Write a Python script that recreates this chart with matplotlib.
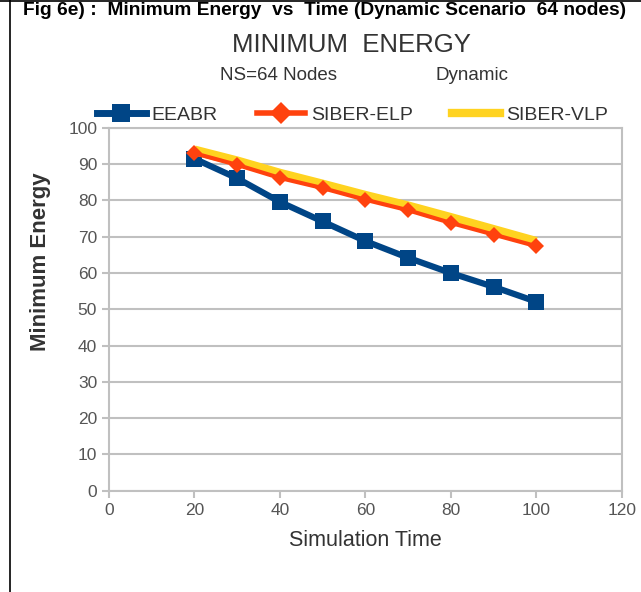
import matplotlib
matplotlib.use("Agg")
import matplotlib.pyplot as plt
from matplotlib.lines import Line2D

plt.rcParams['font.family'] = ['Liberation Sans', 'DejaVu Sans']

# data
sim_time = [20, 30, 40, 50, 60, 70, 80, 90, 100]
eeabr = [91.5, 86.1, 79.6, 74.2, 68.8, 64.2, 60.0, 56.2, 52.1]
siber_elp = [93.0, 89.8, 86.2, 83.4, 80.2, 77.3, 73.8, 70.6, 67.4]
siber_vlp = [93.8, 90.8, 87.4, 84.4, 81.3, 78.4, 75.2, 71.9, 68.6]

x_ticks = [0, 20, 40, 60, 80, 100, 120]
y_ticks = [0, 10, 20, 30, 40, 50, 60, 70, 80, 90, 100]

blue = '#004586'
orange = '#ff420e'
yellow = '#ffd320'
grey = '#c0c0c0'
text_grey = '#333333'

fig = plt.figure(figsize=(6.41, 5.92), dpi=100)
ax = fig.add_axes([0.170, 0.171, 0.800, 0.613])

ax.plot(sim_time, siber_vlp, color=yellow, lw=7, solid_capstyle='butt', zorder=3)
ax.plot(sim_time, siber_elp, color=orange, lw=3, marker='D', ms=8,
        markeredgewidth=0, zorder=4)
ax.plot(sim_time, eeabr, color=blue, lw=4.5, marker='s', ms=12,
        markeredgewidth=0, zorder=2)

ax.set_xlim(0, 120)
ax.set_ylim(0, 100)
ax.set_xticks(x_ticks)
ax.set_yticks(y_ticks)
ax.grid(axis='y', color=grey, lw=1.5)
ax.set_axisbelow(True)
for s in ax.spines.values():
    s.set_color(grey)
    s.set_linewidth(1.5)
ax.tick_params(colors=grey, labelcolor='#555555', labelsize=12.5, width=1.5, length=5)

ax.set_xlabel('Simulation Time', fontsize=15.5, color=text_grey, labelpad=9)
ax.set_ylabel('Minimum Energy', fontsize=16, color=text_grey, fontweight='bold')
ax.yaxis.set_label_coords(-0.113, 0.63)

fig.text(0.507, 0.983, 'Fig 6e) :  Minimum Energy  vs  Time (Dynamic Scenario  64 nodes)',
         ha='center', va='center', fontsize=13.8, fontweight='bold', color='black')
fig.text(0.549, 0.924, 'MINIMUM  ENERGY', ha='center', va='center',
         fontsize=18.5, color=text_grey)
fig.text(0.435, 0.873, 'NS=64 Nodes', ha='center', va='center', fontsize=13.5, color=text_grey)
fig.text(0.736, 0.873, 'Dynamic', ha='center', va='center', fontsize=13.5, color=text_grey)

handles = [
    Line2D([], [], color=blue, lw=5, marker='s', ms=13, markeredgewidth=0),
    Line2D([], [], color=orange, lw=4, marker='D', ms=11, markeredgewidth=0),
    Line2D([], [], color=yellow, lw=6),
]
fig.legend(handles, ['EEABR', 'SIBER-ELP', 'SIBER-VLP'], loc='center',
           bbox_to_anchor=(0.55, 0.806), ncol=3, frameon=False, fontsize=14,
           handlelength=2.5, columnspacing=2.0, handletextpad=0.3,
           labelcolor=text_grey)

# page border lines
fig.add_artist(Line2D([0, 1], [0.998, 0.998], color='black', lw=1.2))
fig.add_artist(Line2D([0.015, 0.015], [0, 1], color='black', lw=1.2))

fig.savefig('out.png', dpi=100)
